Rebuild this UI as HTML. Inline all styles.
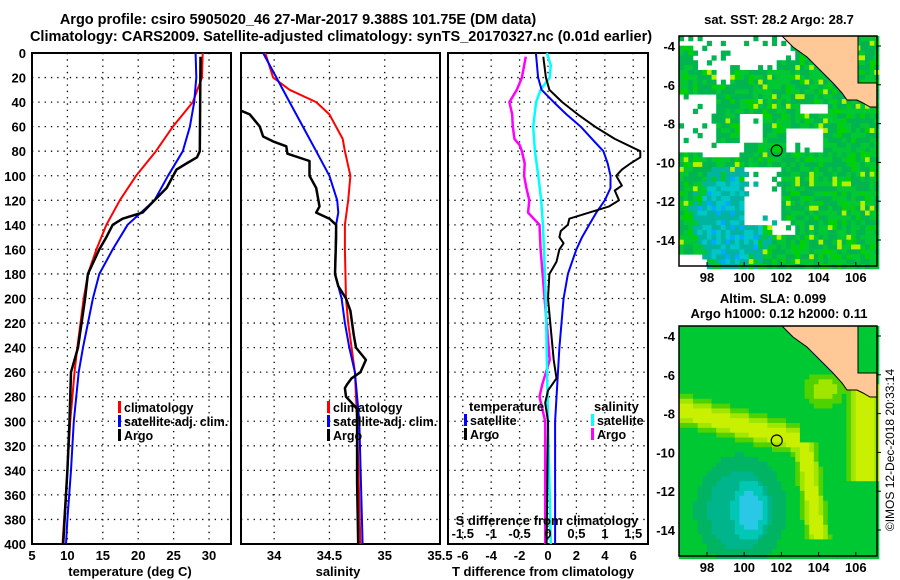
<!DOCTYPE html>
<html><head><meta charset="utf-8">
<style>
body{margin:0;background:#fff;}
svg{display:block;font-family:"Liberation Sans",sans-serif;font-weight:bold;}
</style></head>
<body>
<svg id="chart" width="900" height="580" viewBox="0 0 900 580" xmlns="http://www.w3.org/2000/svg">
<text x="298" y="24" font-size="14.5" text-anchor="middle">Argo profile: csiro 5905020_46 27-Mar-2017 9.388S 101.75E (DM data)</text>
<text x="341" y="41" font-size="14.5" text-anchor="middle">Climatology: CARS2009. Satellite-adjusted climatology: synTS_20170327.nc (0.01d earlier)</text>
<g id="panels"></g>
<g id="maps"></g>
<text transform="translate(894,450) rotate(-90)" font-size="12" font-weight="normal" text-anchor="middle">©IMOS 12-Dec-2018 20:33:14</text>
</svg>
<script>
// ---- data: depth (m) and values ----
const depthTicks = [0,20,40,60,80,100,120,140,160,180,200,220,240,260,280,300,320,340,360,380,400];
const tempTicks = [5,10,15,20,25,30];
const salTicks = [34,34.5,35,35.5];
const salTickLabels = ["34","34.5","35","35.5"];
const tdiffTicks = [-6,-4,-2,0,2,4,6];
const sdiffTickLabels = ["-1.5","-1","-0.5","0","0.5","1","1.5"];
const sdiffTicks = [-1.5,-1,-0.5,0,0.5,1,1.5];

const tClimDepth = [0,20,40,60,80,100,120,140,160,180,200,240,260,280,300,340,400];
const tClimVal   = [29.1,29.0,27.7,24.9,22.5,19.7,17.4,15.5,14.1,12.9,12.3,11.4,11.0,10.7,10.4,10.0,9.3];
const tSatDepth = [0,20,40,60,80,100,120,140,160,180,200,240,260,300,340,380,400];
const tSatVal   = [28.1,28.2,27.9,27.3,26.3,24.2,22.3,18.5,16.4,14.5,13.6,12.2,11.6,10.9,10.5,10.0,9.8];
const tArgoDepth = [3,80,85,90,95,110,120,130,135,140,150,160,180,200,240,260,300,340,380,400];
const tArgoVal   = [28.8,28.7,28.3,26.8,25.4,24.0,22.3,20.6,17.8,16.4,15.5,14.5,12.9,12.5,11.5,10.5,10.3,10.0,9.6,9.4];

const sClimDepth = [0,20,30,40,50,70,80,100,120,140,160,200,220,240,260,300,400];
const sClimVal   = [33.92,33.99,34.14,34.38,34.50,34.62,34.64,34.69,34.67,34.64,34.64,34.65,34.67,34.70,34.73,34.75,34.78];
const sSatDepth = [0,20,40,60,80,100,120,130,140,180,200,220,240,260,300,400];
const sSatVal   = [33.90,34.02,34.14,34.26,34.38,34.50,34.57,34.58,34.56,34.55,34.61,34.64,34.68,34.73,34.77,34.80];
const sArgoDepth = [47,50,60,68,72,76,82,88,100,110,125,130,135,140,150,180,190,200,210,230,240,250,260,265,270,273,280,285,290,300,350,400];
const sArgoVal   = [33.70,33.78,33.87,33.90,33.99,34.11,34.12,34.32,34.32,34.38,34.41,34.38,34.50,34.56,34.56,34.55,34.58,34.65,34.69,34.72,34.74,34.83,34.78,34.70,34.66,34.64,34.65,34.70,34.75,34.75,34.75,34.76];

const dtSatDepth = [0,20,30,40,50,60,70,80,90,100,110,120,130,140,150,160,170,180,200,240,300,400];
const dtSatVal   = [-0.85,-0.7,-0.45,0.4,1.3,2.3,3.1,3.9,4.2,4.4,4.4,4.0,3.4,2.9,2.4,2.0,1.7,1.4,1.1,0.8,0.5,0.5];
const dtArgoDepth = [3,20,30,40,50,60,70,80,85,90,95,100,108,112,120,125,130,135,140,145,150,155,160,170,180,200,250,265,275,285,300,400];
const dtArgoVal   = [-0.33,-0.15,0.1,1.0,2.1,3.3,4.7,6.5,6.5,5.8,5.2,4.8,5.2,4.7,5.0,4.3,2.9,1.5,1.4,0.9,0.8,1.1,0.8,0.6,0.1,0.0,0.4,0.6,0.0,-0.2,0.0,-0.1];
const dsSatDepth = [0,10,20,30,40,60,80,100,120,140,160,200,300,400];
const dsSatVal   = [-0.02,0.05,0.03,-0.13,-0.21,-0.26,-0.23,-0.17,-0.12,-0.09,-0.07,-0.04,0.0,0.05];
const dsArgoDepth = [3,20,30,40,50,60,70,75,80,90,100,110,120,130,140,160,200,250,270,280,300,400];
const dsArgoVal   = [-0.39,-0.46,-0.55,-0.68,-0.63,-0.62,-0.59,-0.5,-0.46,-0.41,-0.42,-0.38,-0.33,-0.35,-0.15,-0.13,-0.06,0.03,-0.1,-0.15,-0.05,-0.05];

// ---- layout ----
const NS="http://www.w3.org/2000/svg";
const Y0=53, Y1=544, DMAX=400;
const yS = d => Y0 + d/DMAX*(Y1-Y0);
function mk(tag, attrs, parent){const e=document.createElementNS(NS,tag);for(const k in attrs)e.setAttribute(k,attrs[k]);parent.appendChild(e);return e;}
const P = document.getElementById('panels');

function panel(name, x0, x1, vmin, vmax, ticks, labels, showY){
  const g=mk('g',{},P);
  
  
  const xs = v => x0 + (v-vmin)/(vmax-vmin)*(x1-x0);
  depthTicks.forEach((d,i)=>{
    if(d>0&&d<DMAX){const l=mk('line',{x1:x0,x2:x1,y1:yS(d),y2:yS(d),stroke:'#000','stroke-width':1.3,'stroke-dasharray':'1.3 5'},g);
      
      }
    if(showY){const t=mk('text',{x:x0-6,y:yS(d)+5,'font-size':13,'text-anchor':'end'},g);t.textContent=d;
      
      }
  });
  ticks.forEach((v,i)=>{
    const x=xs(v);
    if(x>x0+1&&x<x1-1){const l=mk('line',{x1:x,x2:x,y1:Y0,y2:Y1,stroke:'#000','stroke-width':1.3,'stroke-dasharray':'1.3 5'},g);
      
      }
    const t=mk('text',{x:x,y:560,'font-size':13,'text-anchor':'middle'},g);t.textContent=labels[i];
    
    
  });
  const r=mk('rect',{x:x0,y:Y0,width:x1-x0,height:Y1-Y0,fill:'none',stroke:'#000','stroke-width':2},g);
  
  
  return {g,xs};
}
function series(pan, depths, vals, color, w, name){
  const pts=depths.map((d,i)=>pan.xs(vals[i]).toFixed(1)+','+yS(d).toFixed(1)).join(' ');
  const pl=mk('polyline',{points:pts,fill:'none',stroke:color,'stroke-width':w,'stroke-linejoin':'round'},pan.g);
  
  
}
function legend(g, x, y, color, label, name){
  const b=mk('rect',{x:x,y:y-11,width:3,height:12,fill:color},g);
  
  
  const t=mk('text',{x:x+6,y:y,'font-size':12.5},g);t.textContent=label;
  
  
}
function label(g,x,y,txt,name,anchor){
  const t=mk('text',{x:x,y:y,'font-size':13,'text-anchor':anchor||'middle'},g);t.textContent=txt;
  
  
}

// Temperature panel
const p1=panel('temperature-panel',32,231,5,33.1,tempTicks,tempTicks.map(String),true);
series(p1,tClimDepth,tClimVal,'#f00',2,'temp-climatology-line');
series(p1,tSatDepth,tSatVal,'#00f',2,'temp-satellite-line');
series(p1,tArgoDepth,tArgoVal,'#000',2.5,'temp-argo-line');
legend(p1.g,118,412,'#f00','climatology','legend-climatology');
legend(p1.g,118,426,'#00f','satellite-adj. clim.','legend-satellite-adj');
legend(p1.g,118,440,'#000','Argo','legend-argo');
label(p1.g,130,576,'temperature (deg C)','x-axis-title-temperature');

// Salinity panel
const p2=panel('salinity-panel',241,440,33.7,35.5,salTicks,salTickLabels,false);
series(p2,sClimDepth,sClimVal,'#f00',2,'sal-climatology-line');
series(p2,sSatDepth,sSatVal,'#00f',2,'sal-satellite-line');
series(p2,sArgoDepth,sArgoVal,'#000',2.5,'sal-argo-line');
legend(p2.g,327,412,'#f00','climatology','legend-climatology-sal');
legend(p2.g,327,426,'#00f','satellite-adj. clim.','legend-satellite-adj-sal');
legend(p2.g,327,440,'#000','Argo','legend-argo-sal');
label(p2.g,338,576,'salinity','x-axis-title-salinity');

// Difference panel
const p3=panel('difference-panel',448,648,-7.04,7.04,tdiffTicks,tdiffTicks.map(String),false);
const sx = v => 448 + (v+1.76)/(3.52)*200;
const p3s={g:p3.g,xs:sx};
series(p3s,dsArgoDepth,dsArgoVal,'#f0f',2.5,'sdiff-argo-line');
series(p3s,dsSatDepth,dsSatVal,'#0ff',2.5,'sdiff-satellite-line');
series(p3,dtSatDepth,dtSatVal,'#00f',2,'tdiff-satellite-line');
series(p3,dtArgoDepth,dtArgoVal,'#000',2,'tdiff-argo-line');
sdiffTicks.forEach((v,i)=>{const t=mk('text',{x:sx(v),y:538,'font-size':13,'text-anchor':'middle'},p3.g);t.textContent=sdiffTickLabels[i];
  
  });
label(p3.g,547,525,'S difference from climatology','sdiff-axis-title');
label(p3.g,543,576,'T difference from climatology','tdiff-axis-title');
label(p3.g,469,411,'temperature','legend-temperature-header','start');
legend(p3.g,464,425,'#00f','satellite','legend-tdiff-satellite');
legend(p3.g,464,439,'#000','Argo','legend-tdiff-argo');
label(p3.g,594,411,'salinity','legend-salinity-header','start');
legend(p3.g,591,425,'#0ff','satellite','legend-sdiff-satellite');
legend(p3.g,591,439,'#f0f','Argo','legend-sdiff-argo');

// ---- maps ----
const M=document.getElementById('maps');
const lonTicks=[98,100,102,104,106], latTicks=[-4,-6,-8,-10,-12,-14];
const sstWhite=[ // [lonMin,lonMax,latMax,latMin]
 [97.3,101.7,-3.4,-5.2],[101.7,102.8,-3.4,-4.8],[96.6,98.5,-6.6,-9.4],[99.7,101.0,-7.5,-8.9],
 [97.5,100.0,-9.0,-9.7],[100.0,102.0,-10.3,-13.2],[102.3,104.2,-8.3,-9.5],[103.0,104.4,-7.0,-7.6],
 [96.6,97.5,-3.4,-4.0],[101.5,102.8,-13.0,-13.7],[96.6,98.0,-14.8,-15.4],[98.4,99.2,-5.2,-6.0]];
function hsh(i,j){let v=(i*374761393+j*668265263)|0;v=(v^(v>>>13))*1274126177|0;return ((v^(v>>>16))>>>0)/4294967295;}
function map(name, top, kind){
  const g=mk('g',{},M);
  
  
  const x0=679,x1=877,y0=top,y1=top+230;
  const lx = lon => 707 + (lon-98)*18.6;
  const ly = lat => y0+10 + (-4-lat)*19.4;
  const cw=4.65, ch=4.85;
  for(let j=0;j<48;j++)for(let i=0;i<43;i++){
    const cx=x0+i*cw, cy=y0+j*ch;
    const lon=98+(cx+cw/2-707)/18.6, lat=-4-(cy+ch/2-y0-10)/19.4;
    const h=hsh(i,j);
    let col;
    if(kind==='sst'){
      let white=false;
      for(const b of sstWhite){if(lon>=b[0]&&lon<=b[1]&&lat<=b[2]&&lat>=b[3]&&h>0.12)white=true;}
      if(white) continue;
      const cool=Math.exp(-((lon-99.3)**2/4+(lat+13)**2/6));
      if(cool>0.45&&h>0.2) col=h<0.5?'#00c8c8':(h<0.85?'#00b4a0':'#00aaff');
      else if(cool>0.25&&h<0.5) col='#00b4a0';
      else col=h<0.45?'#00b450':(h<0.82?'#00c832':(h<0.95?'#00d200':'#b4f000'));
    } else {
      const blue=Math.exp(-((lon-100.3)**2/0.8+(lat+13)**2/2));
      const teal=Math.exp(-((lon-99.8)**2/5+(lat+13)**2/7));
      const b1=Math.exp(-((lat+8.4+0.25*(lon-99))**2)/0.5)*(lon<103?1:0);
      const b2=Math.exp(-((lon-103.3+0.15*(lat+10))**2)/0.35)*(lat<-9.5&&lat>-14.5?1:0);
      const b3=Math.exp(-((lon-106.5)**2)/0.6)*(lat<-6.5&&lat>-11.5?1:0);
      const b4=Math.exp(-((lon-104.3)**2/1.2+(lat+6.8)**2/0.8))*0.7;
      const y=Math.max(b1,b2,b3,b4);
      if(blue>0.6) col='#28c8e6'; else if(blue>0.3) col='#00c8b4';
      else if(teal>0.55) col='#00b48c';
      else if(y>0.75) col='#c8f000'; else if(y>0.5) col='#a0e600'; else if(y>0.25) col='#50d200';
      else if(teal>0.3) col='#00b464'; else col='#00c832';
    }
    mk('rect',{x:cx,y:cy,width:cw+0.4,height:ch+0.4,fill:col},g);
  }
  const land=mk('polygon',{points:[[782,0],[858,0],[858,83-36],[877,83-36],[877,107-36],[870,107-36],[863,103-36],[857,100-36],[847,100-36],[842,93-36],[833,83-36],[823,73-36],[807,57-36],[793,47-36]].map(p=>p[0]+','+(p[1]+y0)).join(' '),fill:'#ffc896',stroke:'#000','stroke-width':1},g);
  
  
  mk('rect',{x:x0,y:y0,width:x1-x0,height:y1-y0,fill:'none',stroke:'#000','stroke-width':1.5},g);
  const c=mk('circle',{cx:lx(101.75),cy:ly(-9.388),r:5.5,fill:'none',stroke:'#000','stroke-width':1.2},g);
  
  
  lonTicks.forEach(v=>{mk('line',{x1:lx(v),x2:lx(v),y1:y1,y2:y1-4,stroke:'#000'},g);
    const t=mk('text',{x:lx(v),y:y1+16,'font-size':13,'text-anchor':'middle'},g);t.textContent=v;
    
    });
  latTicks.forEach(v=>{mk('line',{x1:x1,x2:x1+4,y1:ly(v),y2:ly(v),stroke:'#000'},g);
    const t=mk('text',{x:x0-4,y:ly(v)+5,'font-size':13,'text-anchor':'end'},g);t.textContent=v;
    
    });
}
map('sst-map',36,'sst');
map('sla-map',326,'sla');
label(M,779,24,'sat. SST: 28.2 Argo: 28.7','sst-map-title');
label(M,773,303,'Altim. SLA: 0.099','sla-map-title-1');
label(M,779,318,'Argo h1000: 0.12 h2000: 0.11','sla-map-title-2');
</script>
</body></html>
